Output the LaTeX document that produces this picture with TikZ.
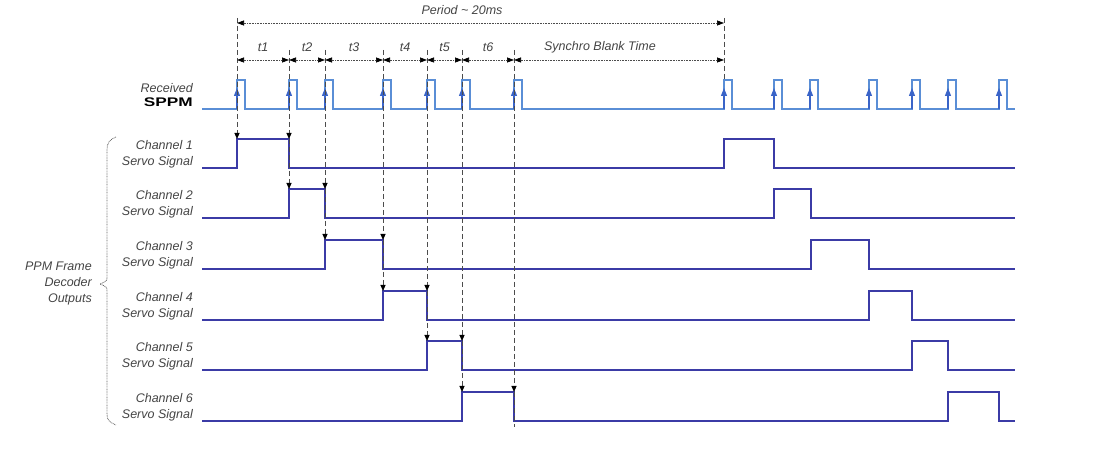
\documentclass[tikz,border=0pt]{standalone}
\usepackage{fontspec}
\usepackage{graphicx}
\setmainfont{Liberation Sans}
\usetikzlibrary{arrows.meta}
\definecolor{sppmc}{HTML}{5A8ED6}
\definecolor{sarrow}{HTML}{3A64C8}
\definecolor{chan}{HTML}{3B3BA6}
\definecolor{txt}{HTML}{444444}
\begin{document}
\begin{tikzpicture}[x=1pt,y=-1pt,
  lbl/.style={font=\fontsize{12.5}{16}\selectfont\itshape, text=txt, inner sep=0pt, align=right, anchor=east},
  toplbl/.style={font=\fontsize{12.5}{15}\selectfont\itshape, text=txt, inner sep=0pt},
  sig/.style={chan, line width=1.6pt},
  sppmline/.style={sppmc, line width=1.2pt},
  risearrow/.style={sarrow, line width=1.2pt, -{Triangle[length=8pt,width=6pt]}},
  guide/.style={black!70, line width=1pt, dash pattern=on 5pt off 3pt},
  guidetip/.style={guide, -{Triangle[length=6pt,width=5pt,black]}},
  dimline/.style={black!70, line width=0.7pt, dash pattern=on 0.8pt off 0.8pt,
     {Triangle[length=7pt,width=5pt,black]}-{Triangle[length=7pt,width=5pt,black]}},
  bracestyle/.style={black!60, line width=0.8pt, dash pattern=on 0.8pt off 0.8pt}
]
\useasboundingbox (0,0) rectangle (1117,462);

% ---------- Received SPPM ----------
\draw[sppmline] (202,109)
  foreach \x in {237,289,325,383,427,462,514,724,774,810,869,912,948,999}
  { -- (\x,109) -- (\x,80) -- ({\x+8},80) -- ({\x+8},109) } -- (1015,109);
\foreach \x in {237,289,325,383,427,462,514,724,774,810,869,912,948,999}
  \draw[risearrow] (\x,109) -- (\x,88);

\node[anchor=base east, font=\fontsize{12.5}{15}\selectfont\itshape, text=txt, inner sep=0pt] (rx) at (193,92.5) {Received};
\node[anchor=base east, font=\fontsize{12.5}{15}\selectfont\bfseries, text=black, inner sep=0pt] (sppm) at (193,106.5) {\scalebox{1.38}[1]{SPPM}};

% ---------- Channel signals ----------
\foreach \lo/\a/\b/\c/\d in {168/237/289/724/774, 218/289/325/774/811, 269/325/383/811/869,
                             320/383/427/869/912, 370/427/462/912/948, 421/462/514/948/999}
  \draw[sig] (202,\lo) -- (\a,\lo) -- (\a,\lo-29) -- (\b,\lo-29) -- (\b,\lo) -- (\c,\lo)
             -- (\c,\lo-29) -- (\d,\lo-29) -- (\d,\lo) -- (1015,\lo);

\foreach \n/\lo in {1/168,2/218,3/269,4/320,5/370,6/421}
  \node[lbl] (ch\n) at (193,\lo-14) {Channel \n\\Servo Signal};

% ---------- Guides ----------
\coordinate (g0t) at (237,18);  \coordinate (g0a) at (237,139);
\coordinate (g1t) at (289,50);  \coordinate (g1a) at (289,139); \coordinate (g1b) at (289,189);
\coordinate (g2t) at (325,50);  \coordinate (g2a) at (325,189); \coordinate (g2b) at (325,240);
\coordinate (g3t) at (383,50);  \coordinate (g3a) at (383,240); \coordinate (g3b) at (383,291);
\coordinate (g4t) at (427,50);  \coordinate (g4a) at (427,291); \coordinate (g4b) at (427,341);
\coordinate (g5t) at (462,50);  \coordinate (g5a) at (462,341); \coordinate (g5b) at (462,392);
\coordinate (g6t) at (514,50);  \coordinate (g6a) at (514,392); \coordinate (g6b) at (514,427);
\coordinate (g7t) at (724,18);  \coordinate (g7b) at (724,80);

\draw[guidetip] (g0t) -- (g0a);
\foreach \i in {1,...,5} {
  \draw[guidetip] (g\i t) -- (g\i a);
  \draw[guidetip] (g\i a) -- (g\i b);
}
\draw[guidetip] (g6t) -- (g6a);
\draw[guide] (g6a) -- (g6b);
\draw[guide] (g7t) -- (g7b);

% ---------- Dimension lines ----------
\coordinate (p0) at (237,23); \coordinate (p1) at (724,23);
\draw[dimline] (p0) -- (p1);
\node[toplbl] (period) at (462,10) {Period \textasciitilde{} 20ms};

\foreach \i/\a/\b/\t in {1/237/289/t1, 2/289/325/t2, 3/325/383/t3, 4/383/427/t4, 5/427/462/t5, 6/462/514/t6} {
  \coordinate (d\i a) at (\a,60); \coordinate (d\i b) at (\b,60);
  \draw[dimline] (d\i a) -- (d\i b);
  \node[toplbl] (lt\i) at ({(\a+\b)/2},47) {\t};
}
\coordinate (d7a) at (514,60); \coordinate (d7b) at (724,60);
\draw[dimline] (d7a) -- (d7b);
\node[toplbl] (sbt) at (600,47) {Synchro Blank Time};

% ---------- Brace ----------
\draw[bracestyle] (116,137) .. controls (109,140) and (107,143) .. (107,150) -- (107,276)
  .. controls (107,281) .. (100,284) .. controls (107,287) .. (107,292) -- (107,414)
  .. controls (107,420) and (109,422) .. (116,425);
\node[lbl] (ppm) at (92,283) {PPM Frame\\Decoder\\Outputs};
\end{tikzpicture}
\end{document}
